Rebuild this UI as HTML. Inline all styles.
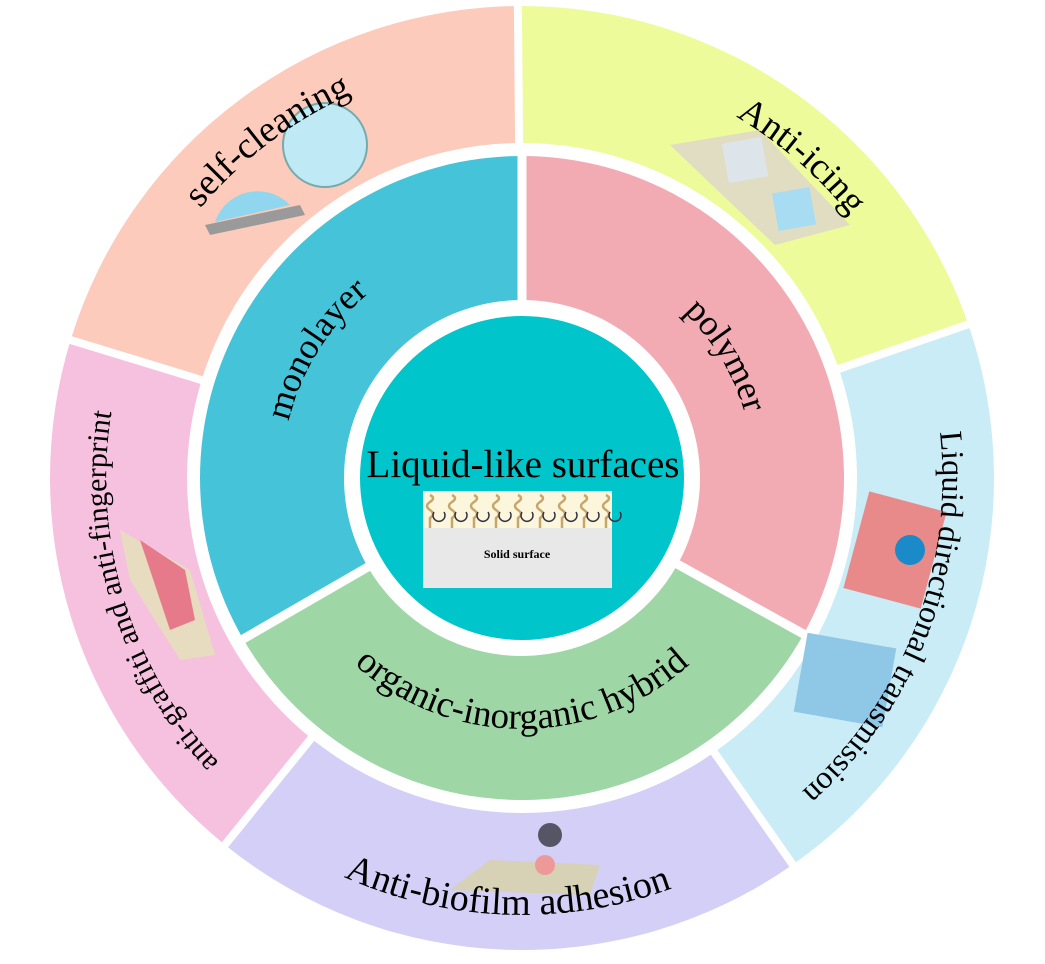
<!DOCTYPE html>
<html><head><meta charset="utf-8"><style>
html,body{margin:0;padding:0;background:#fff;}
svg{display:block;font-family:"Liberation Serif",serif;}
</style></head><body>
<svg id="s" width="1045" height="964" viewBox="0 0 1045 964" xmlns="http://www.w3.org/2000/svg">
<g id="wedges"></g>
<defs>
<path id="p1" d="M113,383.5 A420,420 0 0 1 544,58.6"/>
<path id="p2" d="M536.7,58.3 A420,420 0 0 1 935.6,405.1"/>
<path id="p3" d="M917,334 A420,420 0 0 1 719,849"/>
<path id="p4" d="M202.5,776 A437,437 0 0 0 820,797.5"/>
<path id="p5" d="M327,845 A415,415 0 0 1 155,283"/>
<path id="p6" d="M284.3,511.4 A240,240 0 0 1 447.8,249.7"/>
<path id="p7" d="M601.3,260 A232,232 0 0 1 751.7,510.3"/>
<path id="p8" d="M305,603 A250,250 0 0 0 739,603"/>
</defs>
<g>
<path d="M205,225 L300,205 L305,215 L210,235Z" fill="#9a9a9a"/>
<path d="M215,222 A45,45 0 0 1 290,205Z" fill="#8fd6ee"/>
<circle cx="325" cy="145" r="42" fill="#bfe9f5" stroke="#7aa" stroke-width="2"/>
<path d="M670,145 L760,130 L850,225 L775,245Z" fill="#e0ddc2"/>
<rect x="725" y="140" width="40" height="40" fill="#dde4ea" transform="rotate(-10 745 160)"/>
<rect x="775" y="190" width="38" height="38" fill="#a8dcf2" transform="rotate(-10 794 209)"/>
<rect x="855" y="500" width="80" height="100" fill="#e98a8a" transform="rotate(15 895 550)"/>
<circle cx="910" cy="550" r="15" fill="#1a8ac8"/>
<rect x="800" y="640" width="90" height="80" fill="#8fc7e6" transform="rotate(10 845 680)"/>
<path d="M120,530 L190,570 L215,655 L180,660 L130,580Z" fill="#e8dcc0"/>
<path d="M140,540 L185,570 L195,620 L170,630Z" fill="#e67a8a"/>
<path d="M450,890 L490,860 L600,865 L590,895Z" fill="#d7d1b5"/>
<circle cx="545" cy="865" r="10" fill="#e99"/>
<circle cx="550" cy="835" r="12" fill="#556"/>
</g>
<g fill="#000">
<text font-size="37"><textPath href="#p1" startOffset="50%" text-anchor="middle">self-cleaning</textPath></text>
<text font-size="37"><textPath href="#p2" startOffset="50%" text-anchor="middle">Anti-icing</textPath></text>
<text font-size="32"><textPath href="#p3" startOffset="50%" text-anchor="middle">Liquid directional transmission</textPath></text>
<text font-size="38"><textPath href="#p4" startOffset="50%" text-anchor="middle">Anti-biofilm adhesion</textPath></text>
<text font-size="30"><textPath href="#p5" startOffset="50%" text-anchor="middle">anti-graffiti and anti-fingerprint</textPath></text>
<text font-size="36"><textPath href="#p6" startOffset="50%" text-anchor="middle">monolayer</textPath></text>
<text font-size="36"><textPath href="#p7" startOffset="50%" text-anchor="middle">polymer</textPath></text>
<text font-size="37"><textPath href="#p8" startOffset="50%" text-anchor="middle">organic-inorganic hybrid</textPath></text>
</g>
<circle cx="522" cy="478" r="162" fill="#00c5ca"/>
<text x="523" y="477" font-size="39" text-anchor="middle">Liquid-like surfaces</text>
<rect x="423" y="491" width="189" height="97" fill="#e8e8e8"/>
<rect x="423" y="491" width="189" height="37" fill="#fbf6dc"/>
<g stroke="#c8a56a" stroke-width="2.5" fill="none" id="sq"></g>
<text x="517" y="558" font-size="12" font-weight="bold" text-anchor="middle">Solid surface</text>
</svg>
<script>
var cx=522,cy=478,NS="http://www.w3.org/2000/svg";
function pt(r,a){a=a*Math.PI/180;return [cx+r*Math.cos(a),cy-r*Math.sin(a)];}
function sector(r1,r2,a1,a2,col){
 var p1=pt(r2,a1),p2=pt(r2,a2),p3=pt(r1,a2),p4=pt(r1,a1);
 var large=(a2-a1)>180?1:0;
 var d="M"+p1+" A"+r2+","+r2+" 0 "+large+" 0 "+p2+" L"+p3+" A"+r1+","+r1+" 0 "+large+" 1 "+p4+"Z";
 var e=document.createElementNS(NS,"path");e.setAttribute("d",d);e.setAttribute("fill",col);
 document.getElementById("wedges").appendChild(e);}
function line(r1,r2,a,w){var p=pt(r1,a),q=pt(r2,a);var e=document.createElementNS(NS,"line");
 e.setAttribute("x1",p[0]);e.setAttribute("y1",p[1]);e.setAttribute("x2",q[0]);e.setAttribute("y2",q[1]);
 e.setAttribute("stroke","#fff");e.setAttribute("stroke-width",w);document.getElementById("wedges").appendChild(e);}
sector(335,472,90,163,"#fccbbb");
sector(335,472,163,231,"#f6c0df");
sector(335,472,231,305,"#d3cff7");
sector(335,472,305,379,"#c9ecf6");
sector(335,472,19,90,"#eefb9a");
sector(178,322,90,210,"#45c3d8");
sector(178,322,210,331,"#9ed6a6");
sector(178,322,331,450,"#f2abb3");
[90.5,163,231,305,19].forEach(function(a){line(330,480,a,8);});
[90,210,331].forEach(function(a){line(170,330,a,9);});
var g=document.getElementById("sq");
for(var i=0;i<9;i++){var x=430+i*22;var e=document.createElementNS(NS,"path");
 e.setAttribute("d","M"+x+",495 q6,3 0,7 q-6,4 0,8 q6,4 0,8 v10");g.appendChild(e);
 var c=document.createElementNS(NS,"path");c.setAttribute("d","M"+(x+4)+",512 a6,6 0 1 0 10,0");
 c.setAttribute("stroke","#334");c.setAttribute("stroke-width","1.5");g.appendChild(c);}
</script>
</body></html>
